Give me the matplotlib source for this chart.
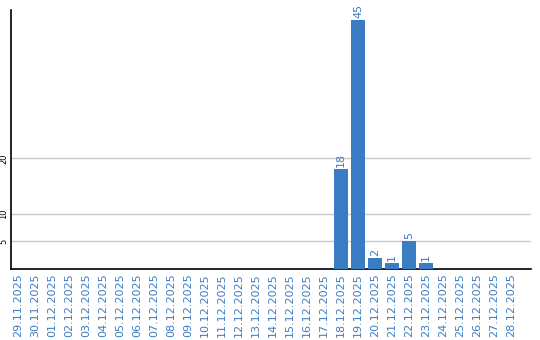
import matplotlib
matplotlib.use('Agg')
import matplotlib.pyplot as plt

# Datos del grafico
fechas = ['29.11.2025', '30.11.2025', '01.12.2025', '02.12.2025', '03.12.2025',
          '04.12.2025', '05.12.2025', '06.12.2025', '07.12.2025', '08.12.2025',
          '09.12.2025', '10.12.2025', '11.12.2025', '12.12.2025', '13.12.2025',
          '14.12.2025', '15.12.2025', '16.12.2025', '17.12.2025', '18.12.2025',
          '19.12.2025', '20.12.2025', '21.12.2025', '22.12.2025', '23.12.2025',
          '24.12.2025', '25.12.2025', '26.12.2025', '27.12.2025', '28.12.2025']
valores = [0, 0, 0, 0, 0, 0, 0, 0, 0, 0,
           0, 0, 0, 0, 0, 0, 0, 0, 0, 18,
           45, 2, 1, 5, 1, 0, 0, 0, 0, 0]
ticks_y = [5, 10, 20]

azul = '#3b7dc4'

fig = plt.figure(figsize=(5.4, 3.4), dpi=100)
ax = fig.add_axes([11 / 540, 1 - 269 / 340, 520 / 540, 259 / 340])

x = range(len(fechas))
ax.bar(x, valores, width=0.82, color=azul, zorder=3)

# Etiquetas sobre cada barra
for i, v in enumerate(valores):
    if v > 0:
        ax.text(i, v + 0.4, str(v), rotation=90, ha='center', va='bottom',
                color=azul, fontsize=8, clip_on=False)

ax.set_xlim(-0.41, 30.18)
ax.set_ylim(0, 46.8)
ax.set_xticks(list(x))
ax.set_xticklabels(fechas, rotation=90, color=azul, fontsize=8)
ax.set_yticks(ticks_y)
ax.set_yticklabels([str(t) for t in ticks_y], rotation=90, fontsize=6, va='center')
ax.tick_params(axis='both', length=0, pad=3)
ax.tick_params(axis='y', pad=2)

ax.grid(axis='y', color='#c8c8c8', linewidth=1, zorder=0)
for lado in ['top', 'right']:
    ax.spines[lado].set_visible(False)
ax.spines['left'].set_color('black')
ax.spines['bottom'].set_color('black')
ax.spines['left'].set_linewidth(1.2)
ax.spines['bottom'].set_linewidth(1.2)

plt.savefig('out.png', dpi=100)
plt.close()
